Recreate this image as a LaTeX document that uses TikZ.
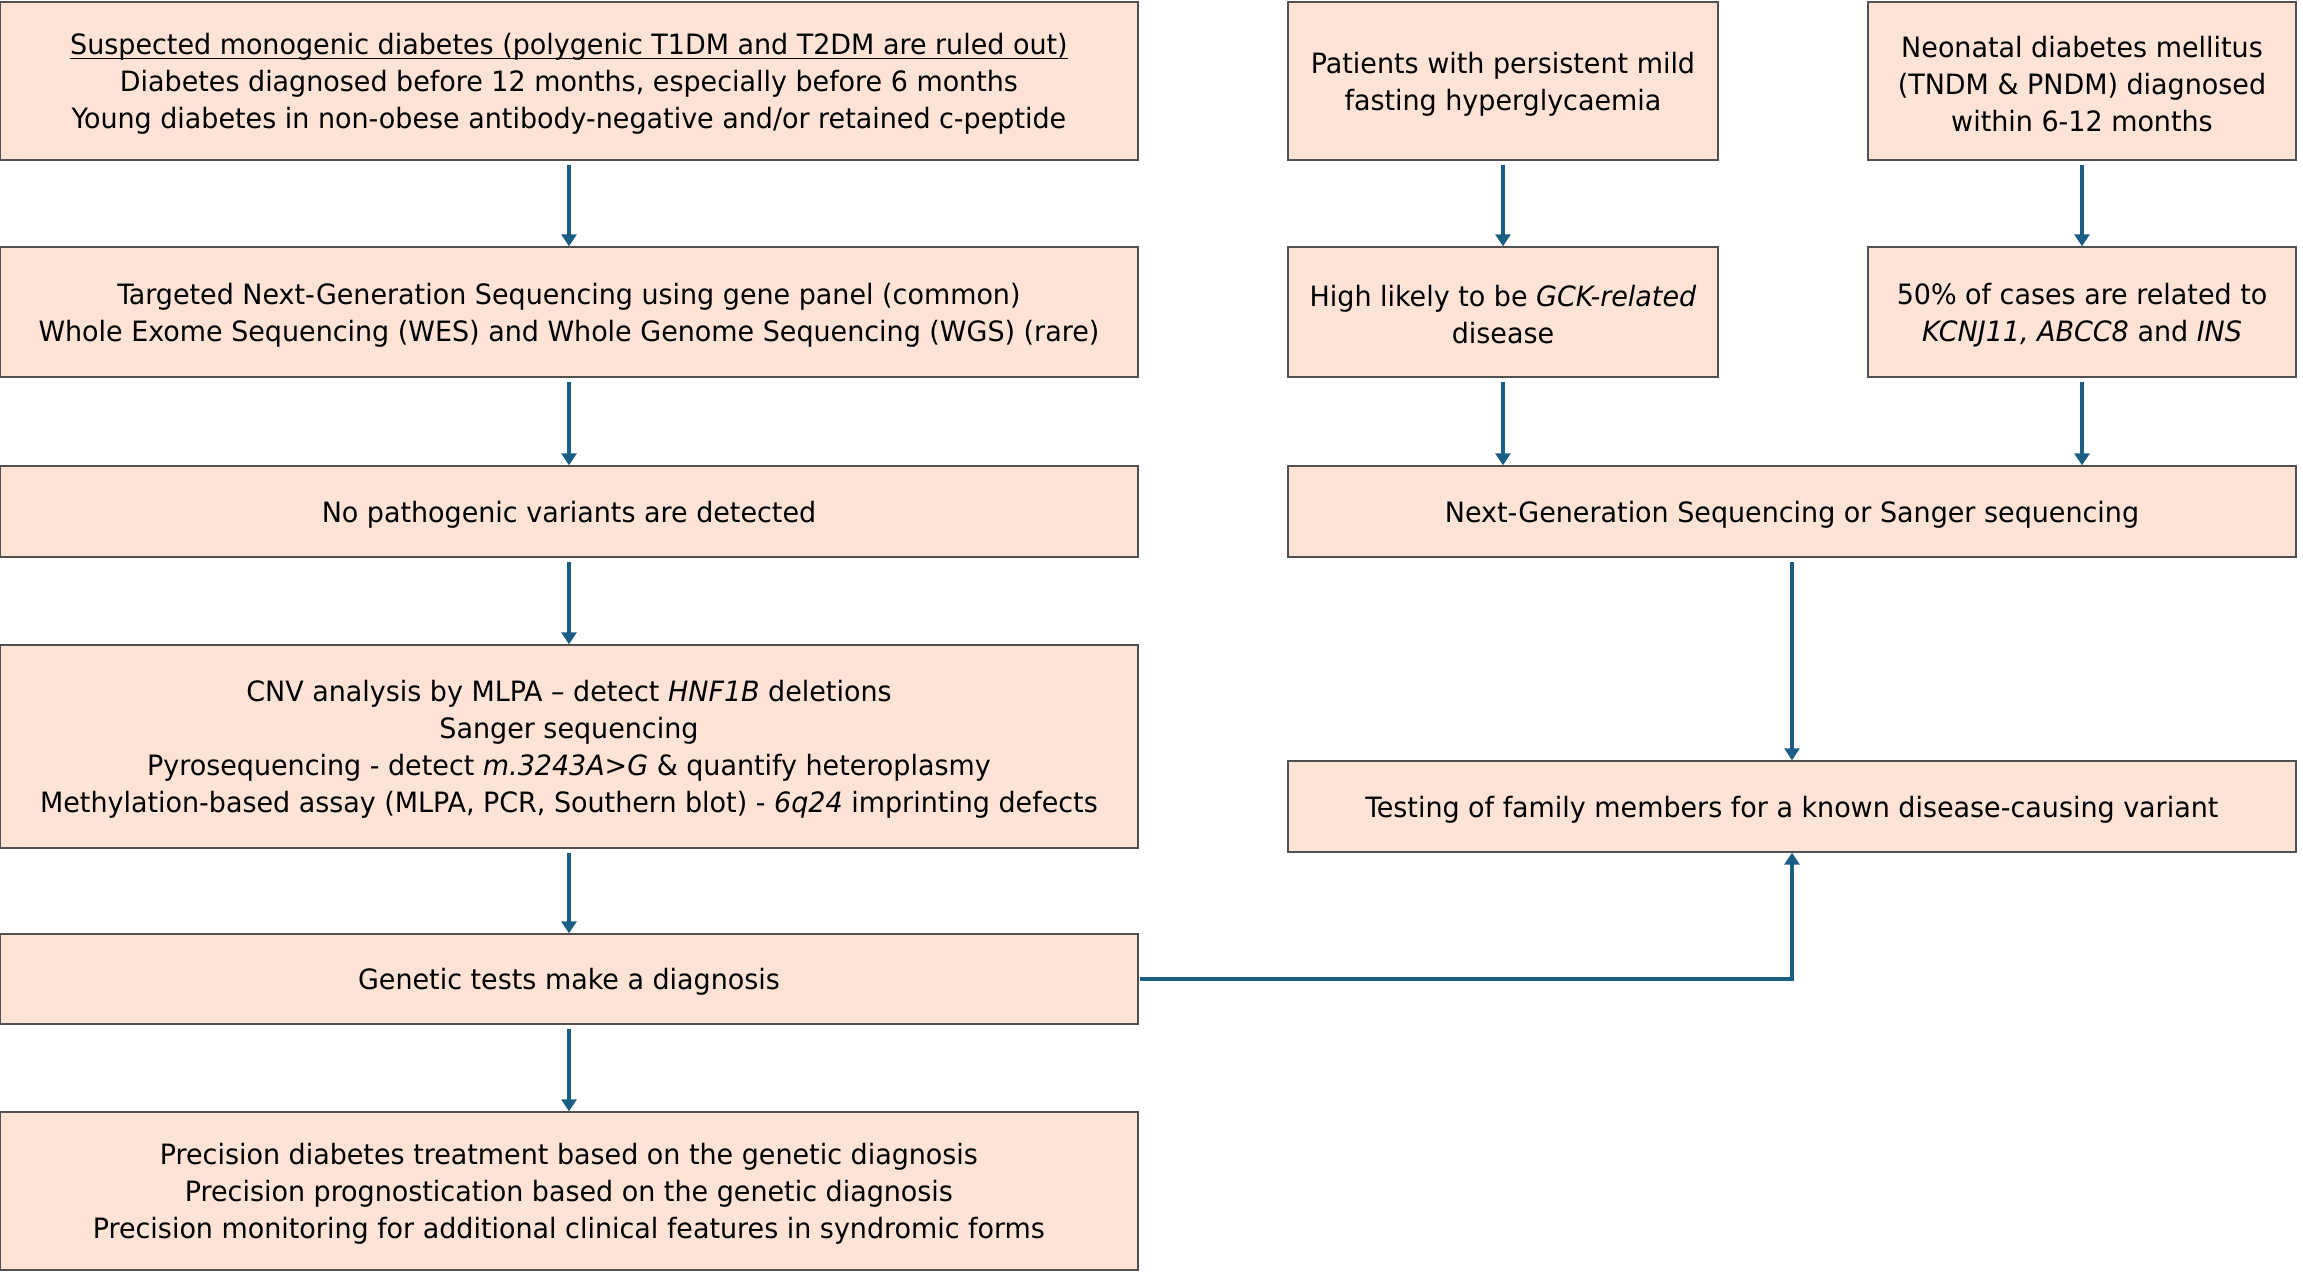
\documentclass[tikz,border=0pt]{standalone}
\usepackage{fontspec}
\setmainfont[FakeStretch=1.07]{DejaVu Sans Condensed}
\usetikzlibrary{arrows.meta}
\definecolor{peach}{HTML}{FCE3D6}
\definecolor{bordergray}{HTML}{505050}
\definecolor{arrowblue}{HTML}{1A5E84}
\newcommand\myuline[1]{\setbox0\hbox{#1}\rlap{\rule[-2.3pt]{\wd0}{0.8pt}}\box0}
\tikzset{
  box/.style={draw=bordergray, line width=0.7pt, fill=peach, inner sep=0pt},
  txt/.style={align=center, inner sep=0pt, yshift=-1.5pt,
    font=\fontsize{14}{18.5}\selectfont},
  arr/.style={draw=arrowblue, line width=1.75pt,
    -{Triangle[length=6pt,width=7.5pt]}, shorten <=2pt},
}
\begin{document}
\begin{tikzpicture}[x=0.5pt,y=-0.5pt]
\useasboundingbox (0,0) rectangle (2303,1286);
% left column
\node[box, minimum width=569pt, minimum height=79pt,
  label={[txt]center:{\myuline{Suspected monogenic diabetes (polygenic T1DM and T2DM are ruled out)}\\
   Diabetes diagnosed before 12 months, especially before 6 months\\
   Young diabetes in non-obese antibody-negative and/or retained c-peptide}}] (b1) at (569,81) {};
\node[box, minimum width=569pt, minimum height=65pt,
  label={[txt]center:{Targeted Next-Generation Sequencing using gene panel (common)\\
   Whole Exome Sequencing (WES) and Whole Genome Sequencing (WGS) (rare)}}] (b2) at (569,312) {};
\node[box, minimum width=569pt, minimum height=45.5pt,
  label={[txt]center:{No pathogenic variants are detected}}] (b3) at (569,511.5) {};
\node[box, minimum width=569pt, minimum height=101.5pt,
  label={[txt]center:{CNV analysis by MLPA – detect \textit{HNF1B} deletions\\
   Sanger sequencing\\
   Pyrosequencing - detect \textit{m.3243A>G} \& quantify heteroplasmy\\
   Methylation-based assay (MLPA, PCR, Southern blot) - \textit{6q24} imprinting defects}}] (b4) at (569,746.5) {};
\node[box, minimum width=569pt, minimum height=45pt,
  label={[txt]center:{Genetic tests make a diagnosis}}] (b5) at (569,979) {};
\node[box, minimum width=569pt, minimum height=79pt,
  label={[txt]center:{Precision diabetes treatment based on the genetic diagnosis\\
   Precision prognostication based on the genetic diagnosis\\
   Precision monitoring for additional clinical features in syndromic forms}}] (b6) at (569,1191) {};
% right columns
\node[box, minimum width=215pt, minimum height=79pt,
  label={[txt]center:{Patients with persistent mild\\ fasting hyperglycaemia}}] (r1) at (1503,81) {};
\node[box, minimum width=214pt, minimum height=79pt,
  label={[txt]center:{Neonatal diabetes mellitus\\ (TNDM \& PNDM) diagnosed\\ within 6-12 months}}] (r2) at (2082,81) {};
\node[box, minimum width=215pt, minimum height=65pt,
  label={[txt]center:{High likely to be \textit{GCK-related}\\ disease}}] (r3) at (1503,312) {};
\node[box, minimum width=214pt, minimum height=65pt,
  label={[txt]center:{50\% of cases are related to\\ \textit{KCNJ11, ABCC8} and \textit{INS}}}] (r4) at (2082,312) {};
\node[box, minimum width=504pt, minimum height=45.5pt,
  label={[txt]center:{Next-Generation Sequencing or Sanger sequencing}}] (ngs) at (1792,511.5) {};
\node[box, minimum width=504pt, minimum height=45.5pt,
  label={[txt]center:{Testing of family members for a known disease-causing variant}}] (test) at (1792,806.5) {};
% connectors
\draw[arr] (b1) -- (b2);
\draw[arr] (b2) -- (b3);
\draw[arr] (b3) -- (b4);
\draw[arr] (b4) -- (b5);
\draw[arr] (b5) -- (b6);
\draw[arr] (r1) -- (r3);
\draw[arr] (r2) -- (r4);
\draw[arr] (r3.south) -- (r3.south |- ngs.north);
\draw[arr] (r4.south) -- (r4.south |- ngs.north);
\draw[arr] (ngs) -- (test);
\draw[arr, shorten <=0.5pt] (b5.east) -| (test.south);
\end{tikzpicture}
\end{document}
